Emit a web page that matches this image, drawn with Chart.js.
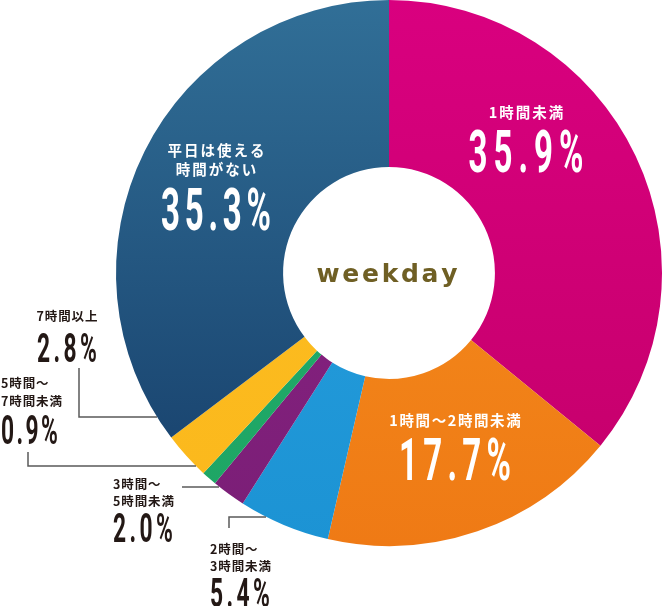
<!DOCTYPE html>
<html>
<head>
<meta charset="utf-8">
<script src="https://cdn.jsdelivr.net/npm/chart.js@4"></script>
<style>
  html, body { margin: 0; padding: 0; background: #fff; }
  #wrap { width: 663px; height: 606px; position: relative; }
</style>
</head>
<body>
<div id="wrap"><canvas id="mainChart" width="663" height="606"></canvas></div>
<script>
// data
const categories = ['1時間未満', '1時間〜2時間未満', '2時間〜3時間未満', '3時間〜5時間未満', '5時間〜7時間未満', '7時間以上', '平日は使える時間がない'];
const shares = [35.9, 17.7, 5.4, 2.0, 0.9, 2.8, 35.3];
const labelLines = [
  ['1時間未満'],
  ['1時間〜2時間未満'],
  ['2時間〜', '3時間未満'],
  ['3時間〜', '5時間未満'],
  ['5時間〜', '7時間未満'],
  ['7時間以上'],
  ['平日は使える', '時間がない']
];
const centerTitle = 'weekday';

// colours: [top, bottom] of each slice gradient
const sliceColors = [
  ['#d9007f', '#c4006a'],
  ['#f6921e', '#ef7a15'],
  ['#2aa2e0', '#1c93d4'],
  ['#8e2487', '#7a1e76'],
  ['#22ae6e', '#1ea564'],
  ['#fdbf22', '#fbb81c'],
  ['#316f97', '#153c68']
];

// where the labels sit (layout only)
const labelLayout = [
  { x: 526, align: 'center', color: '#fff', jp: 14.5, jpGap: 2, tops: [105], num: { top: 130, h: 42, w: 115 } },
  { x: 455, align: 'center', color: '#fff', jp: 14.5, jpGap: 1.6, tops: [413], num: { top: 438, h: 42, w: 112 } },
  { x: 210, align: 'left', color: '#231815', jp: 12.5, jpGap: 0.9, tops: [543, 560], num: { top: 578, h: 29, w: 60 } },
  { x: 113, align: 'left', color: '#231815', jp: 12.5, jpGap: 0.9, tops: [478, 495], num: { top: 513, h: 29, w: 60 } },
  { x: 1, align: 'left', color: '#231815', jp: 12.5, jpGap: 0.9, tops: [377, 395], num: { top: 415, h: 29, w: 57 } },
  { x: 67, align: 'center', color: '#231815', jp: 12.5, jpGap: 0.9, tops: [310], num: { top: 333, h: 29, w: 60 } },
  { x: 216, align: 'center', color: '#fff', jp: 14.5, jpGap: 2, tops: [143, 162], num: { top: 188, h: 42, w: 110 } }
];

const leaders = [
  [[79, 368], [79, 417], [157, 417]],
  [[28, 452], [28, 466], [196, 466]],
  [[182, 487], [219, 487]],
  [[229, 528], [229, 517], [266, 517]]
];

function gradFor(context) {
  const chart = context.chart;
  const c = sliceColors[context.dataIndex];
  const area = chart.chartArea;
  if (!area) return c[0];
  const g = chart.ctx.createLinearGradient(0, area.top, 0, area.bottom);
  g.addColorStop(0, c[0]);
  g.addColorStop(1, c[1]);
  return g;
}

// draws text char by char, squeezed by sx, spread to fit width w
function drawSpaced(ctx, text, x, baseline, w, sx, align) {
  const chars = Array.from(text);
  const widths = chars.map(ch => ctx.measureText(ch).width * sx);
  const sum = widths.reduce((s, v) => s + v, 0);
  const gap = chars.length > 1 ? (w - sum) / (chars.length - 1) : 0;
  let cur = x;
  if (align === 'center') cur = x - w / 2;
  ctx.textAlign = 'left';
  chars.forEach((ch, i) => {
    ctx.save();
    ctx.translate(cur, baseline);
    ctx.scale(sx, 1);
    ctx.fillText(ch, 0, 0);
    ctx.restore();
    cur += widths[i] + gap;
  });
}

const labelPlugin = {
  id: 'sliceLabels',
  afterDraw(chart) {
    const ctx = chart.ctx;
    ctx.save();

    // leader lines
    ctx.strokeStyle = '#5a5a5a';
    ctx.lineWidth = 1.5;
    leaders.forEach(pts => {
      ctx.beginPath();
      pts.forEach((p, i) => i ? ctx.lineTo(p[0], p[1]) : ctx.moveTo(p[0], p[1]));
      ctx.stroke();
    });

    ctx.textBaseline = 'alphabetic';
    labelLayout.forEach((L, i) => {
      ctx.fillStyle = L.color;
      // japanese lines
      ctx.font = `bold ${L.jp}px "Noto Sans CJK JP"`;
      ctx.letterSpacing = L.jpGap + 'px';
      ctx.textAlign = L.align;
      labelLines[i].forEach((line, k) => {
        const tx = L.align === 'center' ? L.x + L.jpGap / 2 : L.x;
        ctx.fillText(line, tx, L.tops[k] + L.jp * 0.88);
      });
      ctx.letterSpacing = '0px';
      // percentage
      const n = L.num;
      const size = n.h / 0.711;
      ctx.font = `bold ${size}px Roboto`;
      drawSpaced(ctx, shares[i].toFixed(1) + '%', L.x, n.top + n.h, n.w, 0.56, L.align);
    });

    // centre title
    ctx.fillStyle = '#6f5f24';
    ctx.font = 'bold 25px "DejaVu Sans"';
    drawSpaced(ctx, centerTitle, 387, 282, 141, 1, 'center');

    ctx.restore();
  }
};

const chartCtx = document.getElementById('mainChart').getContext('2d');
new Chart(chartCtx, {
  type: 'doughnut',
  data: {
    labels: categories,
    datasets: [{
      data: shares,
      backgroundColor: gradFor,
      borderWidth: 0,
      hoverOffset: 0
    }]
  },
  options: {
    responsive: false,
    animation: false,
    cutout: '38.8%',
    layout: { padding: { left: 116, right: 1, top: 0, bottom: 60 } },
    plugins: {
      legend: { display: false },
      tooltip: { enabled: false }
    }
  },
  plugins: [labelPlugin]
});
</script>
</body>
</html>
